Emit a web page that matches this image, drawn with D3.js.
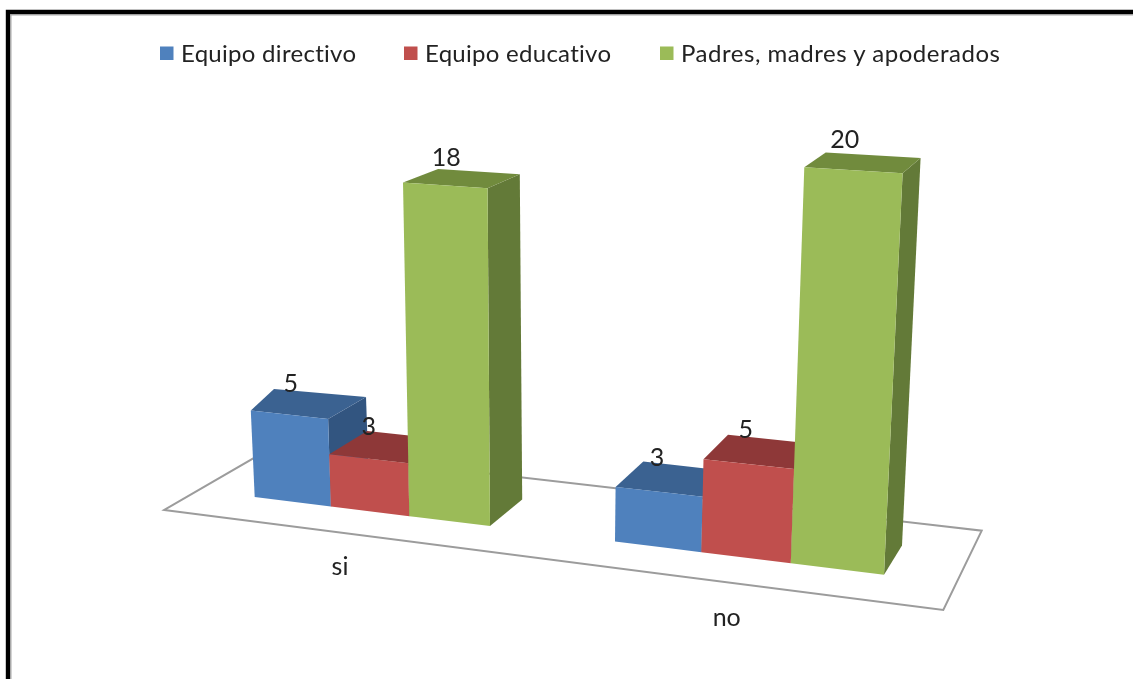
<!DOCTYPE html>
<html>
<head>
<meta charset="utf-8">
<script src="https://cdn.jsdelivr.net/npm/d3@7/dist/d3.min.js"></script>
<style>
html,body{margin:0;padding:0;background:#fff;overflow:hidden}
svg{display:block}
text{font-family:Lato,"Open Sans",sans-serif;fill:#222;font-variant-ligatures:none;font-feature-settings:"liga" 0,"dlig" 0}
</style>
</head>
<body>
<svg id="c" width="1133" height="679"></svg>
<script>
const categories = ["si", "no"];
const seriesNames = ["Equipo directivo", "Equipo educativo", "Padres, madres y apoderados"];
const valuesDirectivo = [5, 3];
const valuesEducativo = [3, 5];
const valuesPadres = [18, 20];
const seriesValues = [valuesDirectivo, valuesEducativo, valuesPadres];
const frontColors = ["#4F81BD", "#C0504D", "#9BBB59"];
const topColors = ["#3B6291", "#8E3937", "#718B3E"];
const sideColors = ["#335580", "#7E3230", "#647A37"];

const svg = d3.select("#c");
const defs = svg.append("defs");
defs.append("filter").attr("id", "soft").attr("x", "-5%").attr("y", "-5%").attr("width", "110%").attr("height", "110%")
  .append("feGaussianBlur").attr("stdDeviation", 0.5);

/* frame */
const frame = svg.append("g");
frame.append("path").attr("d", "M11,679V15H1133").attr("fill", "none").attr("stroke", "#a8a8a8").attr("stroke-width", 1);
frame.append("path").attr("d", "M8,679V12H1133").attr("fill", "none").attr("stroke", "#000").attr("stroke-width", 4.4);

const chart = svg.append("g").attr("filter", "url(#soft)");

/* bar slot along the floor's front line -> pixel */
const catStep = 4.47;
const slotX = d3.scaleLinear()
  .domain([0, 1.5, 3, catStep, 6, 7.47])
  .range([254.7, 369, 490, 615, 747, 884]);
const baseY = d3.scaleLinear().domain([254, 884]).range([497, 574.7]);

/* perspective terms */
const spread = x => 0.0027 * (x - 540);
const unitHeight = d3.scaleLinear().domain([254, 884]).range([17, 18.76]);
const heightPx = (x, v) => v * unitHeight(x) * (1 + 0.0035 * v);
const depthX = d3.scaleLinear().domain([254, 330, 884]).range([23, 38, 18]);
const depthYBase = d3.scaleLinear().domain([254, 884]).range([25, 29.3]);

function project(x, v, back) {
  let px = x + v * spread(x);
  let py = baseY(x) - heightPx(x, v);
  if (back) {
    px += depthX(x);
    py -= depthYBase(x) - 0.7 * v;
  }
  return [px, py];
}
const poly = pts => "M" + pts.map(p => p[0].toFixed(1) + "," + p[1].toFixed(1)).join("L") + "Z";

/* floor */
const floorFrontX = d3.scaleLinear().range([164.3, 943.3]);
const floorFrontY = d3.scaleLinear().range([510, 610]);
const floorBackX = d3.scaleLinear().range([270.6, 981.7]);
const floorBackY = d3.scaleLinear().range([448.3, 530.7]);
chart.append("path")
  .attr("d", poly([
    [floorFrontX(0), floorFrontY(0)], [floorFrontX(1), floorFrontY(1)],
    [floorBackX(1), floorBackY(1)], [floorBackX(0), floorBackY(0)]
  ]))
  .attr("fill", "#fff").attr("stroke", "#9c9c9c").attr("stroke-width", 2);

/* bars */
const labels = [];
categories.forEach((cat, c) => {
  seriesNames.forEach((name, s) => {
    const v = seriesValues[s][c];
    const t = c * catStep + s;
    const x0 = slotX(t), x1 = slotX(t + 1);
    const g = chart.append("g");
    /* right side */
    g.append("path").attr("d", poly([
      project(x1, 0, false), project(x1, 0, true), project(x1, v, true), project(x1, v, false)
    ])).attr("fill", sideColors[s]);
    /* top */
    g.append("path").attr("d", poly([
      project(x0, v, false), project(x1, v, false), project(x1, v, true), project(x0, v, true)
    ])).attr("fill", topColors[s]);
    /* front */
    g.append("path").attr("d", poly([
      project(x0, 0, false), project(x1, 0, false), project(x1, v, false), project(x0, v, false)
    ])).attr("fill", frontColors[s]);
    const xc = (x0 + x1) / 2;
    const back = project(x0, v, true);
    labels.push({ v, x: xc + 0.6 * v * spread(xc) - 0.004 * (xc - 254), y: back[1] - 3 - 0.5 * v + 8.5 });
  });
});

/* data labels */
chart.append("g").selectAll("text").data(labels).join("text")
  .attr("x", d => d.x).attr("y", d => d.y)
  .attr("text-anchor", "middle").attr("font-size", 25)
  .text(d => d.v);

/* category labels */
const catX = d3.scalePoint().domain(categories).range([340, 726.7]);
const catY = d3.scalePoint().domain(categories).range([574.5, 626]);
chart.append("g").selectAll("text").data(categories).join("text")
  .attr("x", d => catX(d)).attr("y", d => catY(d))
  .attr("text-anchor", "middle").attr("font-size", 25)
  .text(d => d);

/* legend */
const legendSwatchX = d3.scaleOrdinal().domain(seriesNames).range([160, 404, 660]);
const legendWidth = d3.scaleOrdinal().domain(seriesNames).range([175, 186, 319]);
const legend = chart.append("g").selectAll("g").data(seriesNames).join("g")
  .attr("transform", d => `translate(${legendSwatchX(d)},0)`);
legend.append("rect").attr("x", 0).attr("y", 46.5).attr("width", 13.5).attr("height", 13.5)
  .attr("fill", (d, i) => frontColors[i]);
legend.append("text").attr("x", 21).attr("y", 61.5).attr("font-size", 24)
  .attr("textLength", d => legendWidth(d)).attr("lengthAdjust", "spacing")
  .text(d => d);
</script>
</body>
</html>
